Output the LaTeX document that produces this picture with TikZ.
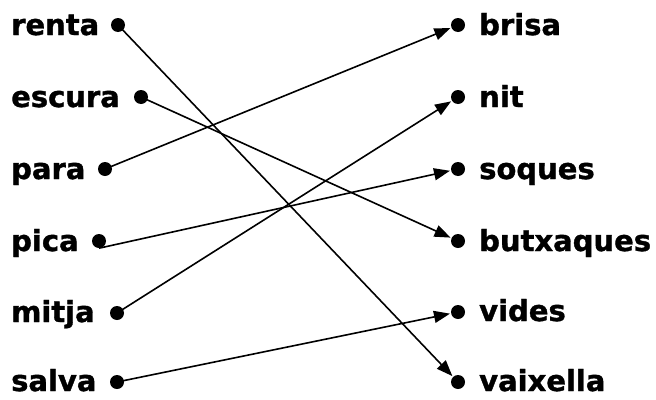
\documentclass[tikz,border=0pt]{standalone}
\usepackage{fontspec}
\setmainfont{DejaVu Sans}[BoldFeatures={FakeBold=1.2}]
\usetikzlibrary{arrows.meta}

\tikzset{
  word/.style={anchor=base west, inner sep=0pt, font=\bfseries\fontsize{29}{34}\selectfont},
  dot/.style={circle, fill=black, inner sep=0pt, minimum size=14pt},
  link/.style={line width=1.6pt, -{Triangle[length=16pt,width=12pt]}, shorten >=1pt}
}

\begin{document}
\begin{tikzpicture}[x=1pt,y=-1pt]
        \useasboundingbox (0,0) rectangle (656,399);

        % Left column
        \node[word] (renta) at (11,35) {renta};
        \node[word] (escura) at (11,107) {escura};
        \node[word] (para) at (11,179) {para};
        \node[word] (pica) at (11,251) {pica};
        \node[word] (mitja) at (11,322) {mitja};
        \node[word] (salva) at (11,391) {salva};

        \node[dot] (renta-d) at (118,25) {};
        \node[dot] (escura-d) at (141,97) {};
        \node[dot] (para-d) at (105,169) {};
        \node[dot] (pica-d) at (99,241) {};
        \node[dot] (mitja-d) at (117,313) {};
        \node[dot] (salva-d) at (117,382) {};

        % Right column
        \node[dot] (brisa-d) at (458,25) {};
        \node[dot] (nit-d) at (458,97) {};
        \node[dot] (soques-d) at (458,169) {};
        \node[dot] (butxaques-d) at (458,241) {};
        \node[dot] (vides-d) at (458,312) {};
        \node[dot] (vaixella-d) at (458,382) {};

        \node[word] (brisa) at (479,35) {brisa};
        \node[word] (nit) at (479,107) {nit};
        \node[word] (soques) at (479,179) {soques};
        \node[word] (butxaques) at (479,251) {butxaques};
        \node[word] (vides) at (479,321) {vides};
        \node[word] (vaixella) at (479,391) {vaixella};

        % Links
        \draw[link] (renta-d.center) -- (vaixella-d);
        \draw[link] (escura-d.center) -- (butxaques-d);
        \draw[link] (para-d.center) -- (brisa-d);
        \draw[link] (pica-d.south) -- (soques-d);
        \draw[link] (mitja-d.center) -- (nit-d);
        \draw[link] (salva-d.center) -- (vides-d);

\end{tikzpicture}
\end{document}
